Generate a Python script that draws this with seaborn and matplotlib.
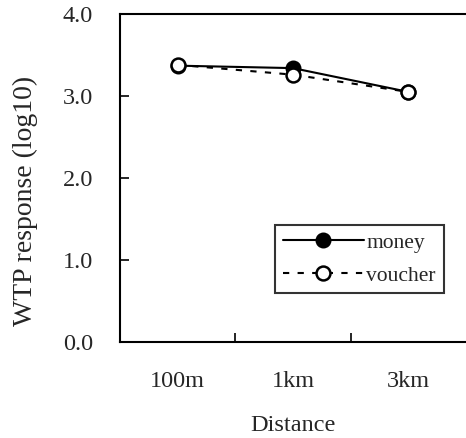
import matplotlib
matplotlib.use("Agg")
import matplotlib.pyplot as plt
import seaborn as sns
import pandas as pd

distances = ["100m", "1km", "3km"]
money = [3.37, 3.34, 3.05]
voucher = [3.38, 3.26, 3.05]
yticks = [0.0, 1.0, 2.0, 3.0, 4.0]

sns.set_style("white")
plt.rcParams["font.family"] = ["Liberation Serif", "DejaVu Serif"]

df = pd.DataFrame({
    "Distance": distances * 2,
    "value": money + voucher,
    "series": ["money"] * 3 + ["voucher"] * 3,
})
df["x"] = [0, 1, 2, 0, 1, 2]

FS = 17.5

fig = plt.figure(figsize=(4.66, 4.38), dpi=100)
ax = fig.add_axes([120 / 466, (438 - 342) / 438, 1 - 120 / 466, (342 - 14) / 438])

sns.lineplot(data=df[df.series == "money"], x="x", y="value", ax=ax,
             color="black", lw=1.5, marker="o", markersize=10,
             markerfacecolor="black", markeredgecolor="black", markeredgewidth=1.5,
             label="money", zorder=3)
sns.lineplot(data=df[df.series == "voucher"], x="x", y="value", ax=ax,
             color="black", lw=1.5, linestyle=(0, (3, 4)), marker="o", markersize=10,
             markerfacecolor="white", markeredgecolor="black", markeredgewidth=1.8,
             label="voucher", zorder=4)

ax.set_xlim(-0.5, 2.5)
ax.set_ylim(0, 4)
ax.set_yticks(yticks)
ax.set_yticklabels([f"{t:.1f}" for t in yticks], fontsize=FS)
ax.set_xticks([0.5, 1.5])
ax.set_xticklabels([])
ax.tick_params(axis="both", direction="in", length=6.5, width=1.2, color="black",
               left=True, bottom=True)
ax.tick_params(axis="y", pad=19.5)
for i, d in enumerate(distances):
    ax.text(i, -0.48, d, ha="center", va="center", fontsize=FS,
            transform=ax.transData)
ax.set_xlabel("")
ax.text(1, -1.02, "Distance", ha="center", va="center", fontsize=FS)
ax.set_ylabel("")
fig.text(25 / 466, 1 - 201 / 438, "WTP response (log10)", rotation=90,
         ha="center", va="center", fontsize=20)

for s in ["left", "bottom", "top"]:
    ax.spines[s].set_color("black")
    ax.spines[s].set_linewidth(1.5)
ax.spines["right"].set_visible(False)

leg = ax.legend(loc="upper left", bbox_to_anchor=((275 - 120) / 346, (342 - 225) / 328),
                fontsize=15.5, frameon=True, fancybox=False, edgecolor="black",
                handlelength=3.8, handletextpad=0.1, borderpad=0.35, labelspacing=0.6,
                borderaxespad=0)
leg.get_frame().set_linewidth(1.5)

fig.savefig("out.png", dpi=100)
